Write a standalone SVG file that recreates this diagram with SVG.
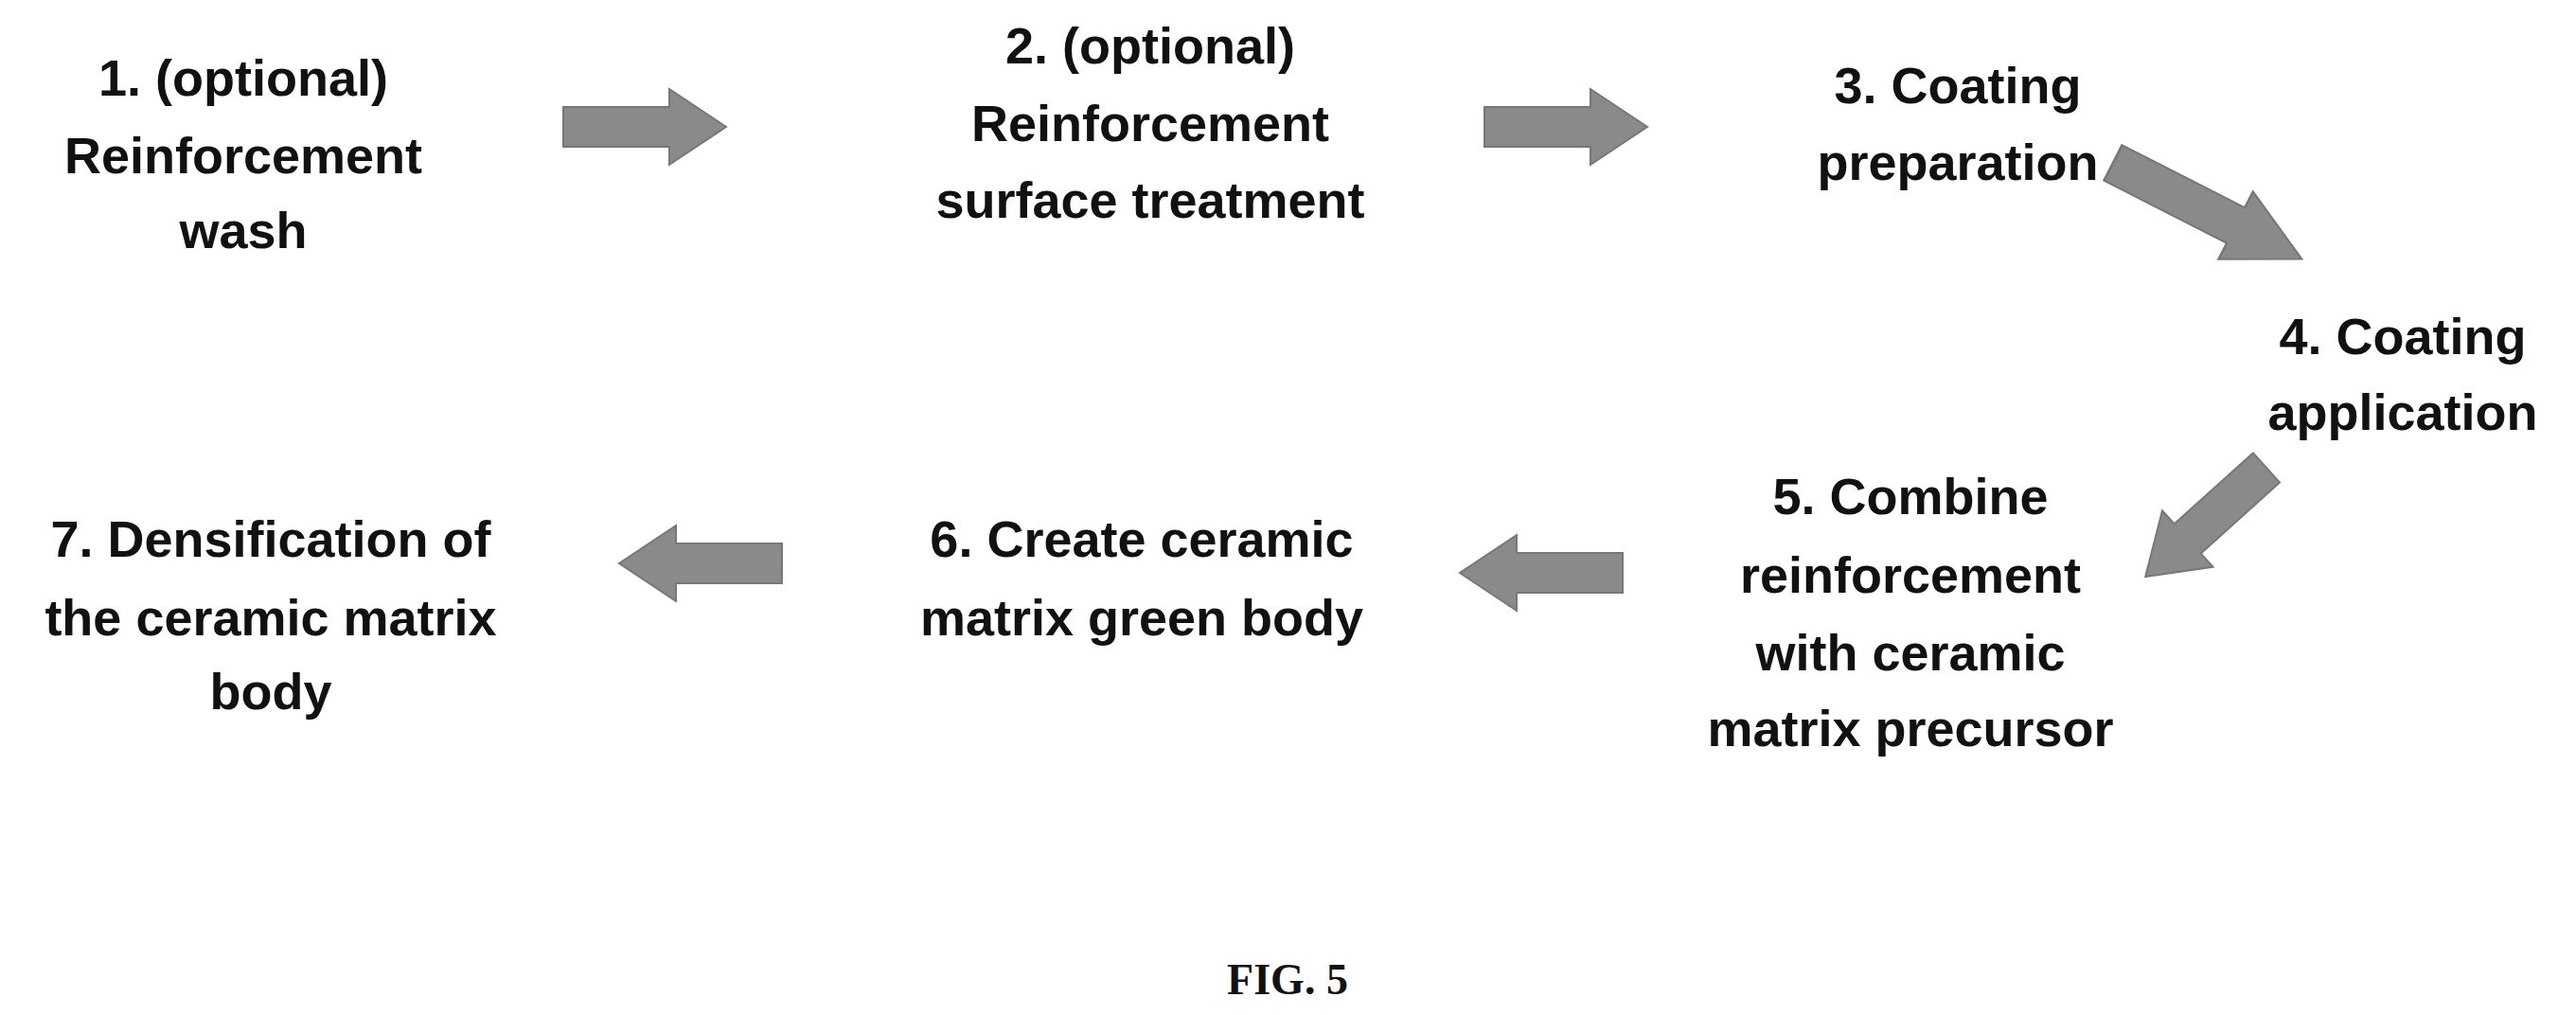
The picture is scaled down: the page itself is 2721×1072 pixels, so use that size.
<svg xmlns="http://www.w3.org/2000/svg" width="2721" height="1072" viewBox="0 0 2721 1072">
<style>
text{font-family:"Liberation Sans",Arial,sans-serif;font-weight:bold;font-size:54px;fill:#111;text-anchor:middle}
.fig{font-family:"Liberation Serif","Times New Roman",serif;font-size:46px}
.arr{fill:#8a8a8a;stroke:#777;stroke-width:2}
</style>
<defs>
<path id="ar" d="M0,-21 L112,-21 L112,-40 L172,0 L112,40 L112,21 L0,21 Z"/>
</defs>
<rect width="2721" height="1072" fill="#fff"/>
<g id="n1"><text x="257" y="101">1. (optional)</text><text x="257" y="183">Reinforcement</text><text x="257" y="262">wash</text></g>
<g id="n2"><text x="1215" y="67">2. (optional)</text><text x="1215" y="149">Reinforcement</text><text x="1215" y="230">surface treatment</text></g>
<g id="n3"><text x="2068" y="109">3. Coating</text><text x="2068" y="190">preparation</text></g>
<g id="n4"><text x="2538" y="374">4. Coating</text><text x="2538" y="454">application</text></g>
<g id="n5"><text x="2018" y="543">5. Combine</text><text x="2018" y="626">reinforcement</text><text x="2018" y="708">with ceramic</text><text x="2018" y="788">matrix precursor</text></g>
<g id="n6"><text x="1206" y="588">6. Create ceramic</text><text x="1206" y="671">matrix green body</text></g>
<g id="n7"><text x="286" y="588">7. Densification of</text><text x="286" y="671">the ceramic matrix</text><text x="286" y="749">body</text></g>
<text class="fig" x="1360" y="1050">FIG. 5</text>
<g id="connectors">
<use href="#ar" class="arr" transform="translate(595,134)"/>
<use href="#ar" class="arr" transform="translate(1568,134)"/>
<use href="#ar" class="arr" transform="translate(2232,172) rotate(27) scale(1.3,1)"/>
<use href="#ar" class="arr" transform="translate(2394,494) rotate(138)"/>
<use href="#ar" class="arr" transform="translate(1714,605) rotate(180)"/>
<use href="#ar" class="arr" transform="translate(826,595) rotate(180)"/>
</g>
</svg>
